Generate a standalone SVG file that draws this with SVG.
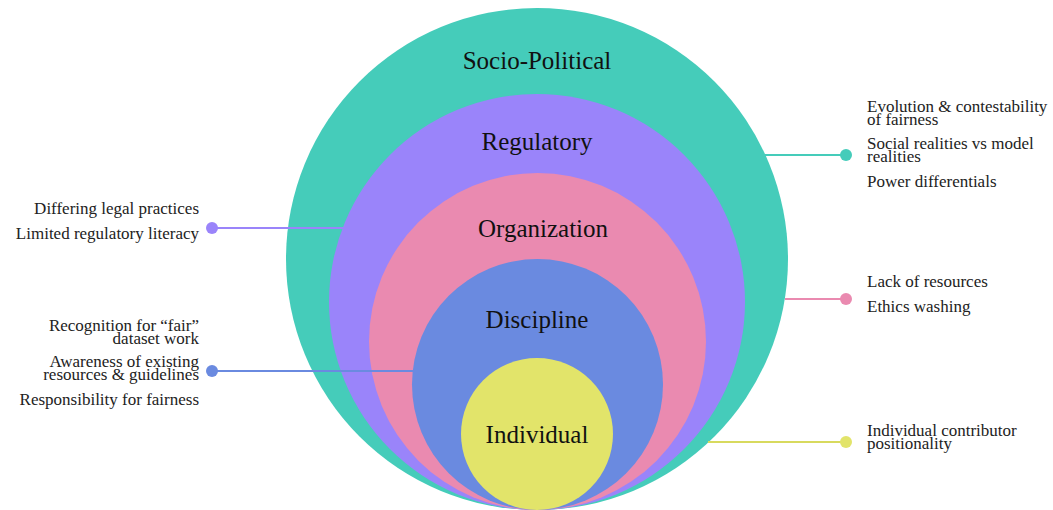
<svg xmlns="http://www.w3.org/2000/svg" width="1053" height="510" viewBox="0 0 1053 510">
  <style>
    .lvl { font-family: "Liberation Serif", "DejaVu Serif", serif; font-size: 25px; fill: #111; text-anchor: middle; }
    .note { font-family: "Liberation Serif", "DejaVu Serif", serif; font-size: 17px; fill: #222; }
    .l { text-anchor: end; }
    .conn { stroke-width: 2.2; fill: none; }
  </style>
  <rect width="1053" height="510" fill="#ffffff"/>
  <g id="socio-political">
    <circle cx="537" cy="259" r="251" fill="#45CCBA"/>
    <text class="lvl" x="537" y="69">Socio-Political</text>
  </g>
  <g id="regulatory">
    <circle cx="537" cy="302" r="208" fill="#9A84FA"/>
    <text class="lvl" x="537" y="150">Regulatory</text>
  </g>
  <g id="organization">
    <circle cx="537.5" cy="341.5" r="168.5" fill="#EA8AB0"/>
    <text class="lvl" x="543" y="237">Organization</text>
  </g>
  <g id="discipline">
    <circle cx="537.5" cy="384.5" r="125.5" fill="#6A8AE0"/>
    <text class="lvl" x="537" y="328">Discipline</text>
  </g>
  <g id="individual">
    <circle cx="537" cy="434" r="76" fill="#E2E46A"/>
    <text class="lvl" x="537" y="443">Individual</text>
  </g>
  <g id="connectors">
    <line class="conn" x1="765" y1="155" x2="846" y2="155" stroke="#45CCBA"/>
    <circle cx="846" cy="155" r="6" fill="#45CCBA"/>
    <line class="conn" x1="212" y1="228" x2="344" y2="228" stroke="#9A84FA"/>
    <circle cx="212" cy="228" r="6" fill="#9A84FA"/>
    <line class="conn" x1="785" y1="299" x2="846" y2="299" stroke="#EA8AB0"/>
    <circle cx="846" cy="299" r="6" fill="#EA8AB0"/>
    <line class="conn" x1="212" y1="371" x2="414" y2="371" stroke="#6A8AE0"/>
    <circle cx="212" cy="371" r="6" fill="#6A8AE0"/>
    <line class="conn" x1="708" y1="442" x2="846" y2="442" stroke="#D8DA5E"/>
    <circle cx="846" cy="442" r="6" fill="#E2E46A"/>
  </g>
  <g id="notes-socio-political">
    <text class="note" x="867" y="112">Evolution &amp; contestability</text>
    <text class="note" x="867" y="125">of fairness</text>
    <text class="note" x="867" y="149">Social realities vs model</text>
    <text class="note" x="867" y="162">realities</text>
    <text class="note" x="867" y="187">Power differentials</text>
  </g>
  <g id="notes-regulatory">
    <text class="note l" x="199" y="214">Differing legal practices</text>
    <text class="note l" x="199" y="239">Limited regulatory literacy</text>
  </g>
  <g id="notes-organization">
    <text class="note" x="867" y="287">Lack of resources</text>
    <text class="note" x="867" y="312">Ethics washing</text>
  </g>
  <g id="notes-discipline">
    <text class="note l" x="199" y="331">Recognition for “fair”</text>
    <text class="note l" x="199" y="344">dataset work</text>
    <text class="note l" x="199" y="367">Awareness of existing</text>
    <text class="note l" x="199" y="380">resources &amp; guidelines</text>
    <text class="note l" x="199" y="405">Responsibility for fairness</text>
  </g>
  <g id="notes-individual">
    <text class="note" x="867" y="436">Individual contributor</text>
    <text class="note" x="867" y="449">positionality</text>
  </g>
</svg>
